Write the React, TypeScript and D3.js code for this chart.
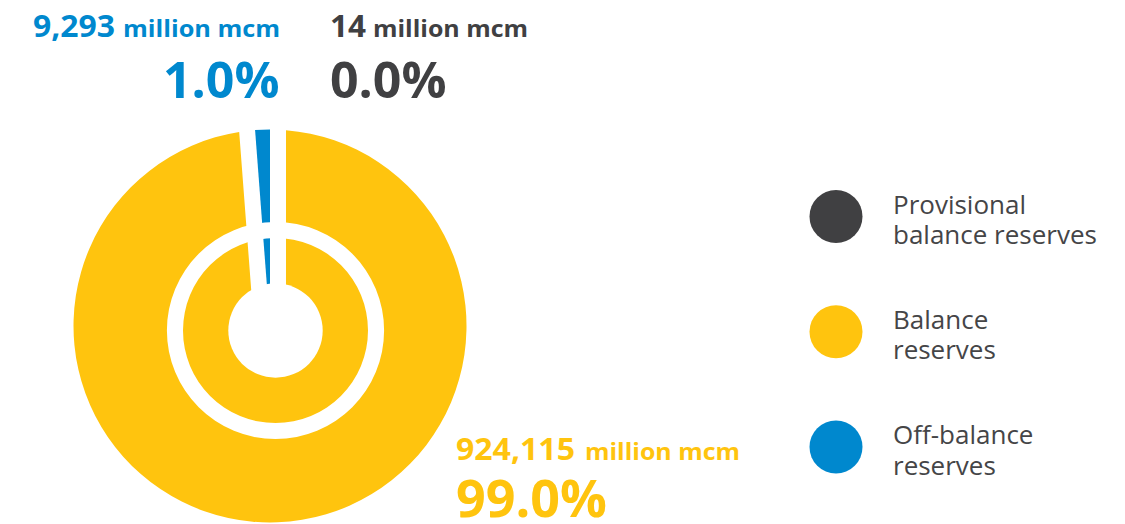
import React from "react";
import * as d3 from "d3";

// ---- data ----
const categories = ["Provisional balance reserves", "Balance reserves", "Off-balance reserves"];
const valuesMcm = [14, 924115, 9293];
const valueLabels = ["14", "924,115", "9,293"];
const shareLabels = ["0.0%", "99.0%", "1.0%"];
const unitLabel = "million mcm";
const legendLines = [
  ["Provisional", "balance reserves"],
  ["Balance", "reserves"],
  ["Off-balance", "reserves"],
];
const colors = ["#404042", "#FFC40E", "#0088CE"];

const W = 1125;
const H = 524;
const FONT = "'Open Sans', 'Noto Sans', sans-serif";

// label layout (x of number start, number width, unit start, unit width, baselines)
const labelLayout = [
  { nx: 330, nw: 36, ux: 373, uw: 155, by: 37, px: 330, py: 98, pfs: 50 },
  { nx: 456, nw: 119, ux: 585, uw: 155, by: 460, px: 456, py: 517, pfs: 52 },
  { nx: 33, nw: 82, ux: 123, uw: 157, by: 37, px: 163, py: 98, pfs: 50 },
];

export default function App() {
  const cx = 270;
  const cy = 326;
  const R = 196.5;
  const icx = 275.5;
  const icy = 330.5;
  const gap = 16;
  const minAngle = 0.076;

  const pie = d3
    .pie<number>()
    .sort(null)
    .value((d) => d)
    .startAngle(0)
    .endAngle(2 * Math.PI);
  const arcs = pie(valuesMcm).map((a) => ({ ...a }));
  // keep very small visible slices readable (designer-style minimum width)
  const blue = arcs[2];
  if (blue.endAngle - blue.startAngle < minAngle) {
    const newStart = blue.endAngle - minAngle;
    arcs[1].endAngle = newStart;
    blue.startAngle = newStart;
  }
  const padAngle = 2 * Math.asin(gap / 2 / R) * 2;
  const arcGen = d3.arc<any>().innerRadius(30).outerRadius(R).padRadius(R);
  const wedgeGen = d3.arc<any>().innerRadius(0).outerRadius(R);

  const ringGen = d3.arc<any>()
    .innerRadius(92.5)
    .outerRadius(108.6)
    .startAngle(0)
    .endAngle(2 * Math.PI);

  const legendX = 836;
  const legendY = d3.scalePoint<number>().domain([0, 1, 2]).range([216.5, 447]);

  return (
    <svg
      width={W}
      height={H}
      style={{ position: "absolute", left: 0, top: 0, background: "#fff" }}
      fontFamily={FONT}
    >
      <g transform={`translate(${cx},${cy})`}>
        {arcs.map((a, i) => {
          if (a.endAngle - a.startAngle < 0.001) return null;
          if (i === 1) {
            return <path key={i} d={arcGen({ ...a, padAngle }) || ""} fill={colors[i]} />;
          }
          return <path key={i} d={wedgeGen({ ...a, padAngle: 0 }) || ""} fill={colors[i]} />;
        })}
      </g>
      <g transform={`translate(${icx},${icy})`}>
        <path d={ringGen({}) || ""} fill="#fff" />
        <circle r={47.2} fill="#fff" />
      </g>

      {/* labels */}
      {labelLayout.map((L, i) => (
        <g key={i} fill={colors[i]} fontWeight={700}>
          <text x={L.nx} y={L.by} fontSize={31} textLength={L.nw} lengthAdjust="spacingAndGlyphs">
            {valueLabels[i]}
          </text>
          <text x={L.ux} y={L.by} fontSize={24} textLength={L.uw} lengthAdjust="spacingAndGlyphs">
            {unitLabel}
          </text>
          <text x={L.px} y={L.py} fontSize={L.pfs}>
            {shareLabels[i]}
          </text>
        </g>
      ))}

      {/* legend */}
      {categories.map((c, i) => {
        const y = legendY(i) as number;
        return (
          <g key={c}>
            <circle cx={legendX} cy={y} r={26.5} fill={colors[i]} />
            {legendLines[i].map((line, j) => (
              <text key={j} x={893} y={y - 3 + j * 30.5} fill="#454547" fontSize={26}>
                {line}
              </text>
            ))}
          </g>
        );
      })}
    </svg>
  );
}
